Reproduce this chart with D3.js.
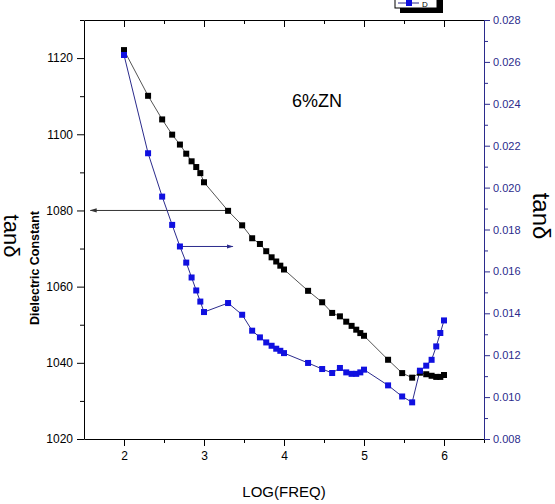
<!DOCTYPE html>
<html>
<head>
  <meta charset="utf-8">
  <title>6%ZN dielectric constant and tan delta</title>
  <script src="https://d3js.org/d3.v7.min.js"></script>
  <style>
    body { margin: 0; background: #fff; }
    svg { display: block; font-family: "Liberation Sans", Arial, sans-serif; }
  </style>
</head>
<body>
  <svg id="chart"></svg>
  <script>
    // log10 of the measuring frequency
    const logFreq = [2, 2.301, 2.477, 2.602, 2.699, 2.778, 2.845, 2.903, 2.954, 3,
      3.301, 3.477, 3.602, 3.699, 3.778, 3.845, 3.903, 3.954, 4,
      4.301, 4.477, 4.602, 4.699, 4.778, 4.845, 4.903, 4.954, 5,
      5.301, 5.477, 5.602, 5.699, 5.778, 5.845, 5.903, 5.954, 6];

    // dielectric constant (left axis)
    const dielectric = [1122.1, 1110.1, 1103.9, 1099.9, 1097.3, 1094.9, 1092.9, 1091.4, 1089.8, 1087.4,
      1079.9, 1076.1, 1072.7, 1071.2, 1069.3, 1067.7, 1066.6, 1065.5, 1064.5,
      1058.9, 1055.9, 1053.1, 1052.2, 1050.8, 1049.7, 1048.7, 1047.8, 1047.1,
      1040.8, 1037.3, 1036.1, 1037.4, 1037.0, 1036.6, 1036.3, 1036.3, 1036.8];

    // tan delta (right axis)
    const tanDelta = [0.02633, 0.02164, 0.01957, 0.01822, 0.01719, 0.01642, 0.01571, 0.01509, 0.01456, 0.01406,
      0.01449, 0.01393, 0.01317, 0.01285, 0.01261, 0.01245, 0.01231, 0.01221, 0.01210,
      0.01163, 0.01134, 0.01115, 0.01139, 0.01118, 0.01111, 0.01111, 0.01118, 0.01131,
      0.01056, 0.01003, 0.00975, 0.01126, 0.01150, 0.01178, 0.01242, 0.01306, 0.01366];

    const xTicks = [2, 3, 4, 5, 6];
    const xMinor = [2.5, 3.5, 4.5, 5.5, 6.5];
    const leftTicks = [1020, 1040, 1060, 1080, 1100, 1120];
    const leftMinor = [1030, 1050, 1070, 1090, 1110, 1130];
    const rightTicks = [0.008, 0.010, 0.012, 0.014, 0.016, 0.018, 0.020, 0.022, 0.024, 0.026, 0.028];
    const rightMinor = [0.009, 0.011, 0.013, 0.015, 0.017, 0.019, 0.021, 0.023, 0.025, 0.027];

    const width = 555, height = 504;
    const navy = "#2b2b8c";
    const blue = "#1010e0";

    const svg = d3.select("#chart").attr("width", width).attr("height", height);

    const x = d3.scaleLinear().domain([1.5, 6.5]).range([84, 484]);
    const yL = d3.scaleLinear().domain([1020, 1130]).range([439, 20]);
    const yR = d3.scaleLinear().domain([0.008, 0.028]).range([439, 20]);

    // bottom axis
    const gx = svg.append("g").attr("transform", "translate(0,439)")
      .call(d3.axisBottom(x).tickValues(xTicks).tickSize(7).tickSizeOuter(0).tickPadding(5).tickFormat(d3.format("d")));
    svg.append("g").attr("transform", "translate(0,439)")
      .call(d3.axisBottom(x).tickValues(xMinor).tickSize(4).tickFormat(""))
      .select(".domain").remove();
    gx.selectAll("text").attr("font-size", 12).attr("font-family", "Liberation Sans, Arial");

    // top axis (ticks pointing in, no labels)
    svg.append("g").attr("transform", "translate(0,20)")
      .call(d3.axisBottom(x).tickValues(xTicks).tickSize(7).tickSizeOuter(0).tickFormat(""));
    svg.append("g").attr("transform", "translate(0,20)")
      .call(d3.axisBottom(x).tickValues(xMinor).tickSize(4).tickFormat(""))
      .select(".domain").remove();

    // left axis
    const gl = svg.append("g").attr("transform", "translate(84,0)")
      .call(d3.axisLeft(yL).tickValues(leftTicks).tickSize(7).tickSizeOuter(0).tickPadding(4).tickFormat(d3.format("d")));
    svg.append("g").attr("transform", "translate(84,0)")
      .call(d3.axisLeft(yL).tickValues(leftMinor).tickSize(4).tickFormat(""))
      .select(".domain").remove();
    gl.selectAll("text").attr("font-size", 12).attr("font-family", "Liberation Sans, Arial");

    // right axis
    const gr = svg.append("g").attr("transform", "translate(484,0)")
      .call(d3.axisRight(yR).tickValues(rightTicks).tickSize(6).tickSizeOuter(0).tickPadding(3).tickFormat(d3.format(".3f")));
    const grm = svg.append("g").attr("transform", "translate(484,0)")
      .call(d3.axisRight(yR).tickValues(rightMinor).tickSize(4).tickFormat(""));
    grm.select(".domain").remove();
    gr.selectAll("path, line").attr("stroke", navy);
    grm.selectAll("line").attr("stroke", navy);
    gr.selectAll("text").attr("fill", navy).attr("font-size", 11).attr("font-family", "Liberation Sans, Arial");

    // axis titles
    svg.append("text")
      .attr("x", 284).attr("y", 497)
      .attr("text-anchor", "middle")
      .attr("font-size", 15)
      .text("LOG(FREQ)");

    svg.append("text")
      .attr("transform", "translate(39,268) rotate(-90)")
      .attr("text-anchor", "middle")
      .attr("font-size", 12.5)
      .attr("font-weight", "bold")
      .text("Dielectric Constant");

    svg.append("text")
      .attr("transform", "translate(533,216) rotate(90)")
      .attr("text-anchor", "middle")
      .attr("font-size", 24)
      .text("tanδ");

    svg.append("text")
      .attr("transform", "translate(4,236) rotate(90)")
      .attr("text-anchor", "middle")
      .attr("font-size", 22)
      .text("tanδ");

    svg.append("text")
      .attr("x", 292).attr("y", 107)
      .attr("font-size", 18)
      .text("6%ZN");

    // arrow markers
    const defs = svg.append("defs");
    [["arrBlack", "#333"], ["arrNavy", navy]].forEach(([id, c]) => {
      defs.append("marker")
        .attr("id", id)
        .attr("viewBox", "0 0 10 10")
        .attr("refX", 9).attr("refY", 5)
        .attr("markerWidth", 7).attr("markerHeight", 7)
        .attr("orient", "auto")
        .append("path")
        .attr("d", "M0,2 L10,5 L0,8 Z")
        .attr("fill", c);
    });

    svg.append("line")
      .attr("x1", x(3.301)).attr("y1", yL(1080))
      .attr("x2", x(1.58)).attr("y2", yL(1080))
      .attr("stroke", "#333").attr("stroke-width", 1)
      .attr("marker-end", "url(#arrBlack)");

    svg.append("line")
      .attr("x1", x(2.699)).attr("y1", yR(0.01719))
      .attr("x2", x(3.36)).attr("y2", yR(0.01719))
      .attr("stroke", navy).attr("stroke-width", 1)
      .attr("marker-end", "url(#arrNavy)");

    // series
    const dcData = logFreq.map((f, i) => [f, dielectric[i]]);
    const tdData = logFreq.map((f, i) => [f, tanDelta[i]]);

    svg.append("path")
      .datum(dcData)
      .attr("fill", "none")
      .attr("stroke", "#555")
      .attr("stroke-width", 1)
      .attr("d", d3.line().x(d => x(d[0])).y(d => yL(d[1])));

    svg.append("path")
      .datum(tdData)
      .attr("fill", "none")
      .attr("stroke", navy)
      .attr("stroke-width", 1)
      .attr("d", d3.line().x(d => x(d[0])).y(d => yR(d[1])));

    svg.selectAll(".dc")
      .data(dcData)
      .join("rect")
      .attr("class", "dc")
      .attr("x", d => x(d[0]) - 3)
      .attr("y", d => yL(d[1]) - 3)
      .attr("width", 6).attr("height", 6)
      .attr("fill", "#000");

    svg.selectAll(".td")
      .data(tdData)
      .join("rect")
      .attr("class", "td")
      .attr("x", d => x(d[0]) - 3)
      .attr("y", d => yR(d[1]) - 3)
      .attr("width", 6).attr("height", 6)
      .attr("fill", blue);

    // legend box, mostly above the picture
    svg.append("rect").attr("x", 400).attr("y", -20).attr("width", 43).attr("height", 33).attr("fill", "#000");
    svg.append("rect").attr("x", 395).attr("y", -25).attr("width", 42).attr("height", 33)
      .attr("fill", "#fff").attr("stroke", "#000").attr("stroke-width", 1);
    svg.append("line").attr("x1", 398).attr("x2", 419).attr("y1", 3).attr("y2", 3)
      .attr("stroke", navy).attr("stroke-width", 1);
    svg.append("rect").attr("x", 406).attr("y", 0).attr("width", 6).attr("height", 6).attr("fill", blue);
    svg.append("text").attr("x", 422).attr("y", 7).attr("font-size", 8).text("D");
  </script>
</body>
</html>
